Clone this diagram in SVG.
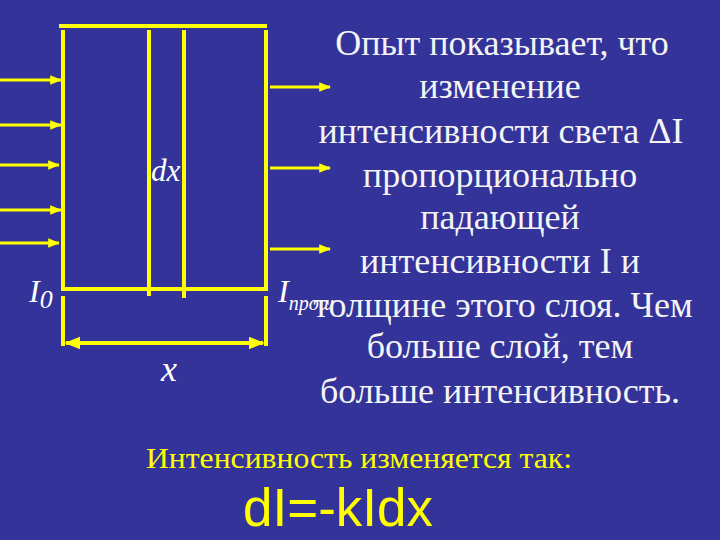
<svg xmlns="http://www.w3.org/2000/svg" width="720" height="540" viewBox="0 0 720 540">
<defs>
<marker id="ah" viewBox="0 0 10 10" refX="9" refY="5" markerWidth="4" markerHeight="4" orient="auto-start-reverse" markerUnits="strokeWidth">
<path d="M0,1 L10,5 L0,9 Z" fill="#ffff00"/>
</marker>
<style>
.ln{stroke:#ffff00;stroke-width:4;fill:none}
.ar{stroke:#ffff00;stroke-width:3;fill:none;marker-end:url(#ah)}
.dim{stroke:#ffff00;stroke-width:4;fill:none;marker-start:url(#ah);marker-end:url(#ah)}
.tx{font-family:'Liberation Serif',Tinos,'Times New Roman','DejaVu Serif',serif;font-size:36px;fill:#f4f4f4;text-anchor:middle}
.lb{font-family:'Liberation Serif',Tinos,'Times New Roman','DejaVu Serif',serif;font-style:italic;fill:#ffffff}
</style>
</defs>
<rect width="720" height="540" fill="#333399"/>
<g id="slab">
<line class="ln" x1="59" y1="26" x2="267" y2="26"/>
<line class="ln" x1="63" y1="30" x2="63" y2="289"/>
<line class="ln" x1="149" y1="30" x2="149" y2="296"/>
<line class="ln" x1="184" y1="30" x2="184" y2="298"/>
<line class="ln" x1="266" y1="30" x2="266" y2="289"/>
<line class="ln" x1="61" y1="289" x2="268" y2="289"/>
<line class="ln" x1="63" y1="296" x2="63" y2="346"/>
<line class="ln" x1="266" y1="296" x2="266" y2="346"/>
</g>
<g id="connectors">
<line class="ar" x1="0" y1="80" x2="61" y2="80"/>
<line class="ar" x1="0" y1="125" x2="61" y2="125"/>
<line class="ar" x1="0" y1="165" x2="59" y2="165"/>
<line class="ar" x1="0" y1="210" x2="61" y2="210"/>
<line class="ar" x1="0" y1="243" x2="59" y2="243"/>
<line class="ar" x1="270" y1="87" x2="330" y2="87"/>
<line class="ar" x1="270" y1="168" x2="330" y2="168"/>
<line class="ar" x1="270" y1="249" x2="330" y2="249"/>
<line class="dim" x1="66" y1="343" x2="263" y2="343"/>
</g>
<g id="labels">
<text class="lb" x="151" y="181" font-size="31">dx</text>
<text class="lb" x="29" y="302" font-size="32">I<tspan font-size="26" dy="6">0</tspan></text>
<text class="lb" x="161" y="381" font-size="36">x</text>
<text class="lb" x="278" y="302" font-size="32">I<tspan font-size="20" dy="8">прош</tspan></text>
</g>
<g id="description">
<text class="tx" x="502" y="55">Опыт показывает, что</text>
<text class="tx" x="500" y="98">изменение</text>
<text class="tx" x="501" y="143">интенсивности света ΔI</text>
<text class="tx" x="500" y="187">пропорционально</text>
<text class="tx" x="500" y="229">падающей</text>
<text class="tx" x="500" y="273">интенсивности I  и</text>
<text class="tx" x="503" y="317">толщине этого слоя. Чем</text>
<text class="tx" x="500" y="358">больше слой, тем</text>
<text class="tx" x="500" y="403">больше интенсивность.</text>
</g>
<g id="formula">
<text x="146" y="468" font-family="'Liberation Serif',Tinos,'Times New Roman','DejaVu Serif',serif" font-size="30" fill="#ffff00" textLength="426" lengthAdjust="spacingAndGlyphs">Интенсивность изменяется так:</text>
<text x="243" y="526" font-family="'Liberation Sans',Arial,sans-serif" font-size="53" fill="#ffff00">dI=-kIdx</text>
</g>
</svg>
